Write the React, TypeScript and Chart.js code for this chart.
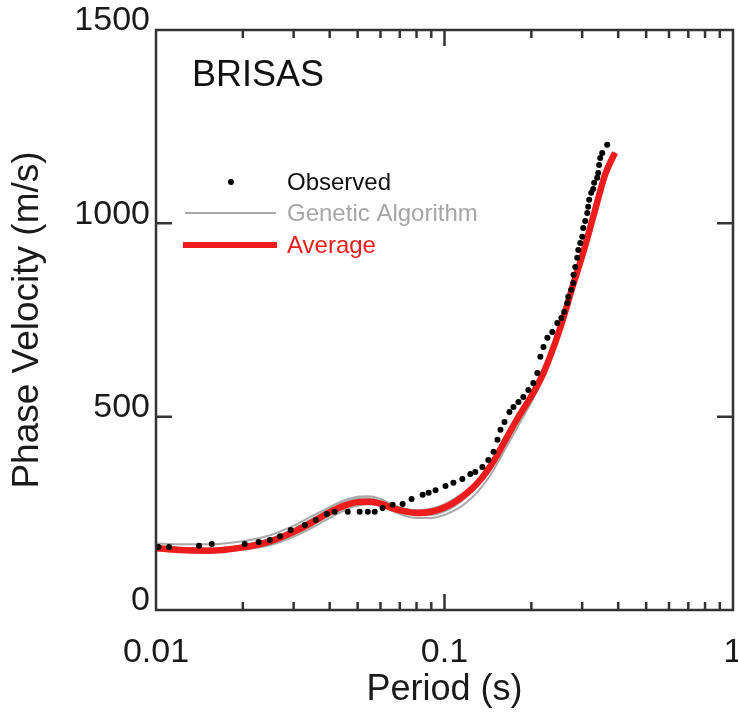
import React, { useEffect, useRef } from "react";
import { Chart, registerables } from "chart.js";

Chart.register(...registerables);

// ---- Data ----
const obsPeriod = [0.0102, 0.0111, 0.0141, 0.0156, 0.0203, 0.0227, 0.0248, 0.0269, 0.0293, 0.0328, 0.0358, 0.0391, 0.0416, 0.0462, 0.0508, 0.0542, 0.0573, 0.061, 0.0661, 0.0716, 0.0769, 0.084, 0.0881, 0.0931, 0.1008, 0.1074, 0.1153, 0.1229, 0.1279, 0.1353, 0.1419, 0.1479, 0.1526, 0.1563, 0.1614, 0.1679, 0.1734, 0.1804, 0.1876, 0.1953, 0.2031, 0.2099, 0.2149, 0.2203, 0.2273, 0.2364, 0.246, 0.2541, 0.2601, 0.2664, 0.2686, 0.275, 0.2794, 0.28, 0.2839, 0.2885, 0.2909, 0.2956, 0.3003, 0.3026, 0.3075, 0.3124, 0.3148, 0.3173, 0.3224, 0.3275, 0.3302, 0.3382, 0.341, 0.3436, 0.3465, 0.3521, 0.3664];
const obsVelocity = [163, 163, 166, 171, 171, 176, 181, 191, 207, 220, 233, 248, 254, 254, 254, 254, 254, 264, 272, 274, 287, 298, 303, 310, 321, 329, 339, 352, 357, 370, 388, 409, 440, 466, 486, 512, 525, 538, 551, 569, 587, 613, 655, 680, 704, 719, 742, 755, 771, 794, 810, 828, 846, 867, 887, 911, 931, 949, 965, 988, 1006, 1027, 1043, 1061, 1079, 1089, 1105, 1118, 1130, 1151, 1169, 1182, 1203];

const curvePeriod = [0.01, 0.012, 0.015, 0.02, 0.025, 0.03, 0.035, 0.04, 0.045, 0.05, 0.055, 0.06, 0.065, 0.07, 0.08, 0.09, 0.1, 0.11, 0.12, 0.13, 0.14, 0.15, 0.16, 0.18, 0.2, 0.22, 0.25, 0.28, 0.3, 0.33, 0.36, 0.39];
const averageVelocity = [160, 155, 153, 162, 178, 202, 228, 253, 270, 279, 280, 275, 265, 258, 251, 254, 265, 282, 303, 328, 358, 392, 430, 498, 553, 612, 722, 844, 915, 1025, 1125, 1183];
const gaVelocity1 = [172, 170, 170, 178, 194, 218, 244, 266, 284, 293, 294, 287, 275, 265, 256, 258, 268, 284, 304, 328, 357, 390, 427, 494, 552, 610, 718, 840, 912, 1020, 1118, 1180];
const gaVelocity2 = [158, 152, 150, 156, 168, 190, 214, 238, 258, 270, 274, 270, 258, 248, 238, 238, 246, 260, 280, 305, 335, 370, 408, 476, 538, 600, 710, 832, 906, 1016, 1118, 1178];
const gaVelocity3 = [166, 161, 159, 167, 185, 210, 237, 261, 279, 289, 289, 281, 269, 259, 247, 246, 255, 272, 294, 320, 349, 383, 421, 490, 548, 606, 718, 840, 912, 1022, 1122, 1181];
const gaVelocity4 = [162, 157, 155, 160, 174, 196, 220, 245, 264, 276, 281, 280, 272, 265, 258, 262, 274, 291, 310, 334, 363, 397, 434, 502, 557, 615, 725, 847, 917, 1027, 1127, 1185];

const yTickValues = [0, 500, 1000, 1500];
const yInnerTicks = [500, 1000];
const xTickValues = [0.01, 0.1, 1];
const xMajorInner = [0.1];
const xMinorInner = [0.02, 0.03, 0.04, 0.05, 0.06, 0.07, 0.08, 0.09, 0.2, 0.3, 0.4, 0.5, 0.6, 0.7, 0.8, 0.9];

const FONT = 'Arial, "Liberation Sans", sans-serif';
const RED = "#ee1c1c";
const GRAY = "#a9a9a9";
const AXIS = "#333333";

const toXY = (xs: number[], ys: number[]) => xs.map((x, i) => ({ x, y: ys[i] }));

const framePlugin = {
  id: "frame",
  afterDraw(chart: any) {
    const { ctx, chartArea: a, scales } = chart;
    const xs = scales.x;
    const ys = scales.y;
    ctx.save();
    ctx.strokeStyle = AXIS;
    ctx.lineWidth = 2.5;
    ctx.lineCap = "butt";
    ctx.strokeRect(a.left, a.top, a.right - a.left, a.bottom - a.top);
    const major = 16;
    const minor = 8;
    ctx.beginPath();
    yInnerTicks.forEach((v) => {
      const p = ys.getPixelForValue(v);
      ctx.moveTo(a.left, p);
      ctx.lineTo(a.left + major, p);
      ctx.moveTo(a.right, p);
      ctx.lineTo(a.right - major, p);
    });
    xMajorInner.forEach((v) => {
      const p = xs.getPixelForValue(v);
      ctx.moveTo(p, a.bottom);
      ctx.lineTo(p, a.bottom - major);
      ctx.moveTo(p, a.top);
      ctx.lineTo(p, a.top + major);
    });
    xMinorInner.forEach((v) => {
      const p = xs.getPixelForValue(v);
      ctx.moveTo(p, a.bottom);
      ctx.lineTo(p, a.bottom - minor);
      ctx.moveTo(p, a.top);
      ctx.lineTo(p, a.top + minor);
    });
    ctx.stroke();

    // panel label
    ctx.fillStyle = "#111";
    ctx.font = `36px ${FONT}`;
    ctx.textBaseline = "middle";
    ctx.textAlign = "left";
    ctx.fillText("BRISAS", 192, 76);

    // legend
    ctx.font = `24px ${FONT}`;
    ctx.beginPath();
    ctx.fillStyle = "#000";
    ctx.arc(231, 182, 3, 0, Math.PI * 2);
    ctx.fill();
    ctx.fillStyle = "#111";
    ctx.fillText("Observed", 287, 183);

    ctx.strokeStyle = GRAY;
    ctx.lineWidth = 2;
    ctx.beginPath();
    ctx.moveTo(185, 213);
    ctx.lineTo(276, 213);
    ctx.stroke();
    ctx.fillStyle = "#a6a6a6";
    ctx.fillText("Genetic Algorithm", 287, 214);

    ctx.strokeStyle = RED;
    ctx.lineWidth = 6;
    ctx.beginPath();
    ctx.moveTo(183, 245);
    ctx.lineTo(277, 245);
    ctx.stroke();
    ctx.fillStyle = RED;
    ctx.fillText("Average", 287, 246);
    ctx.restore();
  },
};

const grayDataset = (ys: number[]) => ({
  label: "Genetic Algorithm",
  data: toXY(curvePeriod, ys),
  showLine: true,
  borderColor: GRAY,
  borderWidth: 2,
  pointRadius: 0,
  cubicInterpolationMode: "monotone" as const,
  order: 3,
});

export default function App() {
  const ref = useRef<HTMLCanvasElement | null>(null);
  useEffect(() => {
    document.body.style.margin = "0";
    if (!ref.current) return;
    const chart = new Chart(ref.current, {
      type: "scatter",
      data: {
        datasets: [
          {
            label: "Observed",
            data: toXY(obsPeriod, obsVelocity),
            backgroundColor: "#000",
            borderColor: "#000",
            pointRadius: 3,
            pointBorderWidth: 0,
            order: 0,
          },
          {
            label: "Average",
            data: toXY(curvePeriod, averageVelocity),
            showLine: true,
            borderColor: RED,
            borderWidth: 6.5,
            pointRadius: 0,
            cubicInterpolationMode: "monotone",
            order: 1,
          },
          grayDataset(gaVelocity1),
          grayDataset(gaVelocity2),
          grayDataset(gaVelocity3),
          grayDataset(gaVelocity4),
        ],
      },
      options: {
        animation: false,
        responsive: false,
        devicePixelRatio: 1,
        layout: { padding: { left: 0, right: 5, top: 30, bottom: 0 } },
        plugins: { legend: { display: false }, tooltip: { enabled: false } },
        scales: {
          x: {
            type: "logarithmic",
            min: 0.01,
            max: 1,
            grid: { display: false, drawTicks: false },
            border: { display: false },
            afterBuildTicks: (s: any) => {
              s.ticks = xTickValues.map((v) => ({ value: v }));
            },
            afterFit: (s: any) => {
              s.height = 106;
              s.paddingLeft = 0;
              s.paddingRight = 0;
            },
            ticks: {
              autoSkip: false,
              maxRotation: 0,
              padding: 22,
              color: "#1a1a1a",
              font: { size: 34, family: FONT },
              callback: (v: any) => String(v),
            },
            title: {
              display: true,
              text: "Period (s)",
              color: "#1a1a1a",
              font: { size: 36, family: FONT },
              padding: { top: 0, bottom: 4 },
            },
          },
          y: {
            type: "linear",
            min: 0,
            max: 1500,
            grid: { display: false, drawTicks: false },
            border: { display: false },
            afterBuildTicks: (s: any) => {
              s.ticks = yTickValues.map((v) => ({ value: v }));
            },
            afterFit: (s: any) => {
              s.width = 156;
              s.paddingTop = 0;
              s.paddingBottom = 0;
            },
            ticks: {
              padding: 6,
              labelOffset: -9,
              color: "#1a1a1a",
              font: { size: 34, family: FONT },
              callback: (v: any) => String(v),
            },
            title: {
              display: true,
              text: "Phase Velocity (m/s)",
              color: "#1a1a1a",
              font: { size: 37, family: FONT },
              padding: { top: 6, bottom: 0 },
            },
          },
        },
      },
      plugins: [framePlugin],
    });
    return () => chart.destroy();
  }, []);
  return (
    <div style={{ width: 738, height: 716 }}>
      <canvas ref={ref} width={738} height={716} style={{ display: "block" }} />
    </div>
  );
}
